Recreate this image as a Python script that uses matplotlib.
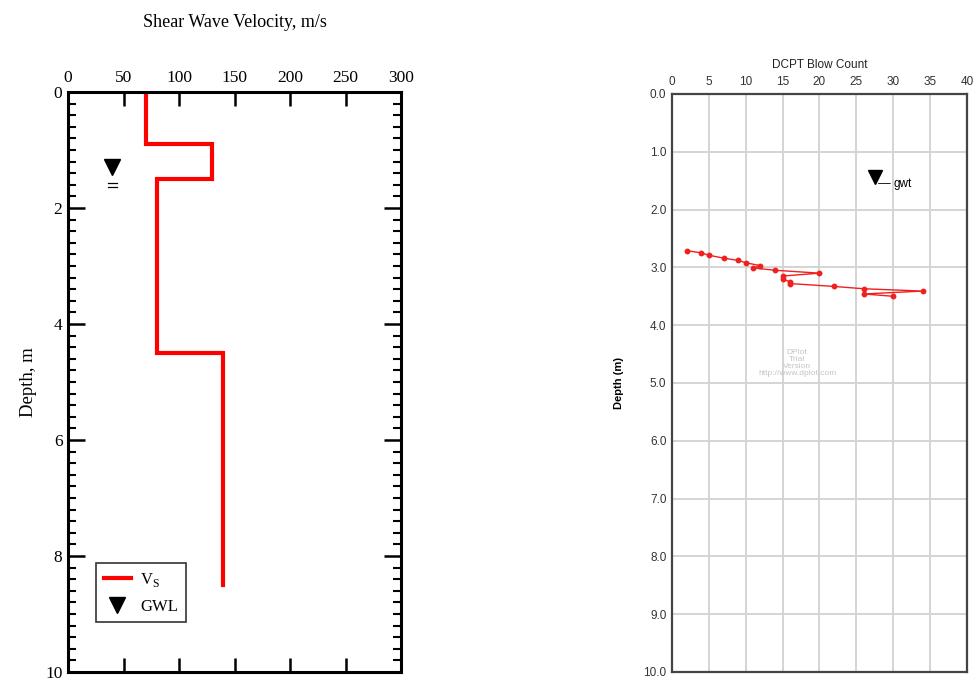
import matplotlib
matplotlib.use("Agg")
import matplotlib.pyplot as plt
from matplotlib.ticker import MultipleLocator
from matplotlib.lines import Line2D

# ---- data: left panel (shear wave velocity profile) ----
vs_velocity = [70, 70, 130, 130, 80, 80, 140, 140]
vs_depth = [0.0, 0.9, 0.9, 1.5, 1.5, 4.5, 4.5, 8.5]
gwl_x = 40
gwl_depth = 1.3

# ---- data: right panel (DCPT blow counts) ----
dcpt_blows = [2, 4, 5, 7, 9, 10, 12, 11, 14, 20, 15, 15, 16, 16, 22, 26, 34, 26, 30]
dcpt_depth = [2.71, 2.75, 2.79, 2.84, 2.88, 2.92, 2.97, 3.01, 3.05, 3.10,
              3.15, 3.20, 3.25, 3.28, 3.33, 3.37, 3.41, 3.46, 3.50]
gwt_blows = 27.5
gwt_depth = 1.43

fig = plt.figure(figsize=(9.79, 6.80), dpi=100)

# ================= left panel =================
serif = ["Liberation Serif", "DejaVu Serif"]
ax1 = fig.add_axes([0.0695, 0.0118, 0.3401, 0.853])
ax1.plot(vs_velocity, vs_depth, color="#ff0000", lw=3, solid_joinstyle="miter")
ax1.plot([gwl_x], [gwl_depth], marker="v", color="black", ms=11, ls="none")
# small water-table symbol lines below the triangle
ax1.plot([gwl_x - 4, gwl_x + 4], [gwl_depth + 0.27, gwl_depth + 0.27], color="black", lw=0.9)
ax1.plot([gwl_x - 4, gwl_x + 4], [gwl_depth + 0.34, gwl_depth + 0.34], color="black", lw=0.9)
ax1.set_xlim(0, 300)
ax1.set_ylim(10, 0)
ax1.xaxis.set_major_locator(MultipleLocator(50))
ax1.yaxis.set_major_locator(MultipleLocator(2))
ax1.yaxis.set_minor_locator(MultipleLocator(0.2))
ax1.xaxis.tick_top()
ax1.tick_params(axis="x", which="major", direction="in", top=True, bottom=True,
                length=10, width=1.8, labelsize=12.5, pad=4)
ax1.tick_params(axis="y", which="major", direction="in", left=True, right=True,
                length=12, width=1.8, labelsize=12.5, pad=4)
ax1.tick_params(axis="y", which="minor", direction="in", left=True, right=True,
                length=6, width=1.5)
for lab in ax1.get_xticklabels() + ax1.get_yticklabels():
    lab.set_family(serif)
for sp in ax1.spines.values():
    sp.set_linewidth(2.2)
fig.text(0.24, 0.967, "Shear Wave Velocity, m/s", ha="center", va="center",
         fontsize=13, family=serif)
ax1.set_ylabel("Depth, m", fontsize=13.5, family=serif, labelpad=6)
handles = [Line2D([], [], color="#ff0000", lw=3),
           Line2D([], [], marker="v", color="black", ls="none", ms=11)]
leg = ax1.legend(handles, [r"V$_\mathregular{S}$", "GWL"], loc="lower left",
                 bbox_to_anchor=(0.084, 0.086), borderaxespad=0, frameon=True,
                 fancybox=False, edgecolor="black",
                 prop={"family": serif, "size": 12},
                 handlelength=1.65, borderpad=0.45, labelspacing=0.6,
                 handletextpad=0.55)
leg.get_frame().set_linewidth(1.2)

# ================= right panel =================
sans = ["Liberation Sans", "DejaVu Sans"]
ax2 = fig.add_axes([0.6864, 0.0118, 0.3013, 0.85])
ax2.plot(dcpt_blows, dcpt_depth, color="#ee2020", lw=1.0, marker="o", ms=3.2,
         mfc="#ee2020", mec="#ee2020")
ax2.plot([gwt_blows], [gwt_depth], marker="v", color="black", ms=10, ls="none")
ax2.annotate("gwt", xy=(gwt_blows + 0.5, gwt_depth + 0.12), xytext=(gwt_blows + 2.5, gwt_depth + 0.12),
             va="center", ha="left", fontsize=8.5, family=sans,
             arrowprops=dict(arrowstyle="-", color="black", lw=0.6, shrinkA=0, shrinkB=0))
ax2.set_xlim(0, 40)
ax2.set_ylim(10, 0)
ax2.xaxis.set_major_locator(MultipleLocator(5))
ax2.yaxis.set_major_locator(MultipleLocator(1))
ax2.yaxis.set_major_formatter(plt.FuncFormatter(lambda v, p: f"{v:.1f}"))
ax2.xaxis.tick_top()
ax2.grid(True, color="#d4d4d4", lw=1.4)
ax2.set_axisbelow(True)
ax2.tick_params(axis="both", length=0, labelsize=8.5, pad=4, colors="#333333")
for lab in ax2.get_xticklabels() + ax2.get_yticklabels():
    lab.set_family(sans)
for sp in ax2.spines.values():
    sp.set_linewidth(1.6)
    sp.set_color("#444444")
ax2.set_title("DCPT Blow Count", fontsize=8.5, family=sans, pad=19, color="#222222")
ax2.set_ylabel("Depth (m)", fontsize=8, family=sans, fontweight="bold", labelpad=14)
ax2.text(0.424, 0.535, "DPlot\nTrial\nVersion\nhttp://www.dplot.com", transform=ax2.transAxes,
         ha="center", va="center", fontsize=6, color="#c4c4c4", family=sans,
         linespacing=1.0)

fig.savefig("out.png", dpi=100)
